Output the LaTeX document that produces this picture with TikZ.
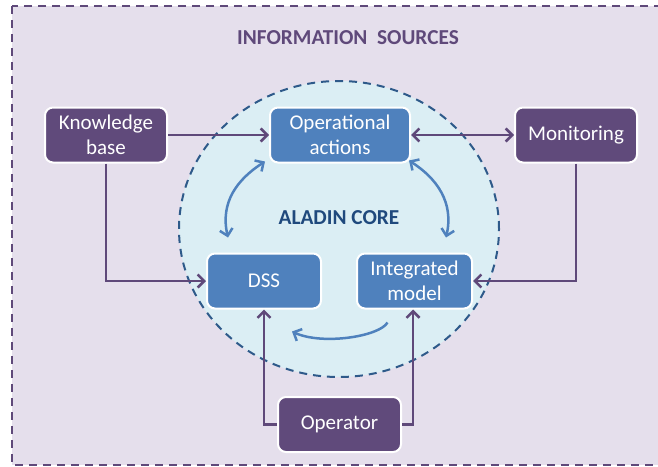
\documentclass[tikz,border=0pt]{standalone}
\usepackage{fontspec}
\setmainfont{Carlito}
\usetikzlibrary{arrows.meta}
\definecolor{bgc}{HTML}{E5DFEC}
\definecolor{purp}{HTML}{5F497A}
\definecolor{nodep}{HTML}{604A7B}
\definecolor{nodeb}{HTML}{4F81BD}
\definecolor{corefill}{HTML}{DBEEF4}
\definecolor{coreline}{HTML}{2E5A8A}
\definecolor{coretext}{HTML}{1F497D}
\newcommand{\nodefont}{\fontsize{21}{25}\selectfont}
\begin{document}
\begin{tikzpicture}[x=1pt,y=-1pt,
  basebox/.style={draw=white, line width=2pt, rounded corners=8pt, text=white,
    font=\nodefont, align=center, inner sep=0pt, minimum height=55pt},
  pbox/.style={basebox, fill=nodep},
  bbox/.style={basebox, fill=nodeb},
  parr/.style={draw=purp, line width=2.5pt, -{Straight Barb[length=6.5pt,width=13pt]}},
  barr/.style={draw=nodeb, line width=2.5pt, -{Straight Barb[length=6.5pt,width=13pt]}},
  titletext/.style={font=\fontsize{21.3}{25}\selectfont\bfseries}
]
\useasboundingbox (0,0) rectangle (658,466);
\clip (0,0) rectangle (658,466);
\draw[fill=bgc, draw=purp, line width=2pt, dash pattern=on 8pt off 6pt] (12,6) rectangle (690,465);
\draw[fill=corefill, draw=coreline, line width=2pt, dash pattern=on 8pt off 6pt]
  (339,229) ellipse [x radius=160pt, y radius=148pt];

\node[titletext, text=purp] (title) at (348,38) {INFORMATION\ \ SOURCES};
\node[titletext, text=coretext] (core) at (339,218) {ALADIN CORE};

\node[pbox, minimum width=122pt] (kb) at (106,135) {Knowledge\\base};
\node[bbox, minimum width=140pt] (oa) at (340,135) {Operational\\actions};
\node[pbox, minimum width=122pt] (mon) at (576,135) {Monitoring};
\node[bbox, minimum width=114pt] (dss) at (264,281) {DSS};
\node[bbox, minimum width=115pt] (im) at (414.5,281) {Integrated\\model};
\node[pbox, minimum width=123pt] (op) at (339.5,424.5) {Operator};

\draw[parr] (kb.east) -- (oa.west);
\draw[parr, {Straight Barb[length=6.5pt,width=13pt]}-{Straight Barb[length=6.5pt,width=13pt]}] (oa.east) -- (mon.west);
\draw[parr] (kb.south) |- (dss.west);
\draw[parr] (mon.south) |- (im.east);
\draw[parr] (op.west) -| (dss.south);
\draw[parr] (op.east) -| ([xshift=-1.5pt]im.south);

\draw[barr, {Straight Barb[length=6.5pt,width=13pt]}-{Straight Barb[length=6.5pt,width=13pt]}]
  ([shift={(-4,-2)}]oa.south west) .. controls +(-28,18) and +(-8,-35) .. ([shift={(22,-15)}]dss.north west);
\draw[barr, {Straight Barb[length=6.5pt,width=13pt]}-{Straight Barb[length=6.5pt,width=13pt]}]
  ([shift={(-2,-3)}]oa.south east) .. controls +(28,18) and +(8,-35) .. ([shift={(-27,-15)}]im.north east);
\draw[barr]
  ([shift={(-27,13)}]im.south) .. controls +(-8,14) and +(30,14) .. ([shift={(-30,22)}]dss.south east);
\end{tikzpicture}
\end{document}
